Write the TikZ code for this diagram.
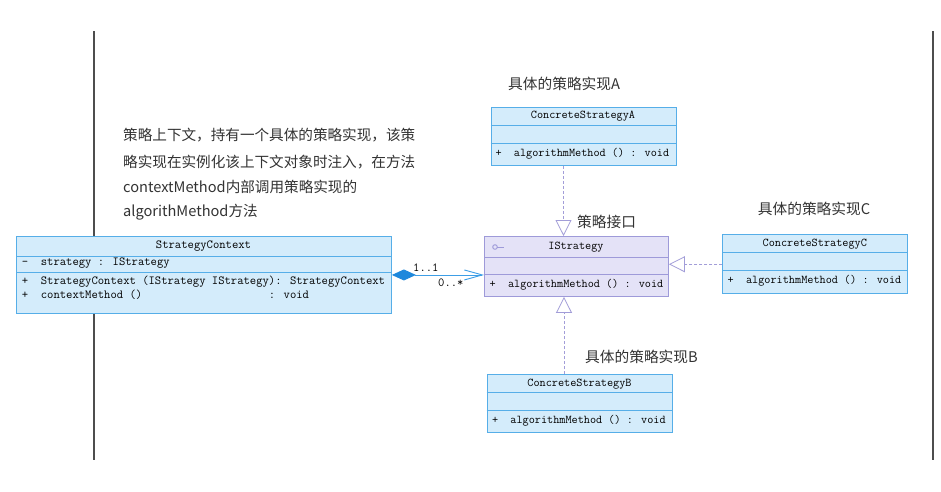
\documentclass[tikz,border=0pt]{standalone}
\usepackage{fontspec}
\usetikzlibrary{arrows.meta}
\newfontfamily\cjk{Noto Sans CJK SC}
\newcommand\umono{\ttfamily\fontsize{12.3}{14}\selectfont}
\newcommand\umonos{\ttfamily\fontsize{11.9}{14}\selectfont}
\definecolor{clsfill}{HTML}{D4ECFB}
\definecolor{clsline}{HTML}{56AEE8}
\definecolor{ifill}{HTML}{E4E2F7}
\definecolor{iline}{HTML}{9E9AD9}
\definecolor{dashc}{HTML}{A29DD8}
\definecolor{assocc}{HTML}{3D9EE6}
\definecolor{diamc}{HTML}{1E88DC}
\definecolor{txt}{HTML}{333333}
\definecolor{frame}{HTML}{4D4D4D}
\tikzset{
  clsbox/.style={draw=clsline, fill=clsfill, line width=0.9pt, inner sep=0pt, anchor=north west},
  ibox/.style={draw=iline, fill=ifill, line width=0.9pt, inner sep=0pt, anchor=north west},
  mtext/.style={font=\umono, text=black, inner sep=0pt},
  mleft/.style={mtext, anchor=west},
  stext/.style={font=\umonos, text=black, inner sep=0pt},
  sleft/.style={stext, anchor=west},
  note/.style={font=\cjk\fontsize{14.7}{17}\selectfont, text=txt, inner sep=0pt, anchor=base west},
  para/.style={font=\cjk\fontsize{14.6}{17}\selectfont, text=txt, inner sep=0pt, anchor=base west},
  real/.style={draw=dashc, line width=0.8pt, dash pattern=on 3pt off 2pt,
    -{Triangle[open, length=16pt, width=16pt, line width=0.8pt]}},
  assoc/.style={draw=assocc, line width=0.9pt,
    {Diamond[length=24pt, width=11pt, fill=diamc, color=diamc]}-{Straight Barb[length=18pt, width=10pt, line width=0.9pt]}},
  framel/.style={draw=frame, line width=1.5pt},
}
\begin{document}
\begin{tikzpicture}[x=1pt, y=-1pt]
\useasboundingbox (0,0) rectangle (941,491);
\fill[white] (0,0) rectangle (941,491);

% frame lines
\coordinate (fl1) at (94,31); \coordinate (fl2) at (94,460);
\coordinate (fr1) at (933,31); \coordinate (fr2) at (933,460);
\draw[framel] (fl1) -- (fl2);
\draw[framel] (fr1) -- (fr2);

% StrategyContext
\node[clsbox, minimum width=375pt, minimum height=77pt] (ctx) at (16,236) {};
\draw[clsline, line width=0.9pt] (16,256.7) -- (391,256.7);
\draw[clsline, line width=0.9pt] (16,272.3) -- (391,272.3);
\node[mtext] (ctxh) at (203.5,246.3) {StrategyContext};
\node[mleft] (ctxa) at (21.7,263.3) {-~~strategy : IStrategy};
\node[mleft] (ctxm1) at (21.7,281.7) {+~~StrategyContext (IStrategy IStrategy): StrategyContext};
\node[mleft] (ctxm2) at (21.7,294.3) {+~~contextMethod ()\phantom{xxxxxxxxxxxxxxxxxxxx}: void};

% IStrategy
\node[ibox, minimum width=184pt, minimum height=60pt] (istr) at (484,236) {};
\draw[iline, line width=0.9pt] (484,257) -- (668,257);
\draw[iline, line width=0.9pt] (484,274.5) -- (668,274.5);
\node[stext] (istrh) at (576,246.7) {IStrategy};
\node[sleft] (istrm) at (489.5,285) {+~~algorithmMethod () : void};
\draw[iline, line width=0.9pt] (495,247) circle (2.3pt);
\draw[iline, line width=0.9pt] (497.3,247) -- (503.5,247);

% ConcreteStrategyA
\node[clsbox, minimum width=185pt, minimum height=58pt] (csa) at (490.5,107) {};
\draw[clsline, line width=0.9pt] (490.5,125) -- (675.5,125);
\draw[clsline, line width=0.9pt] (490.5,143.3) -- (675.5,143.3);
\node[stext] (csah) at (583,116) {ConcreteStrategyA};
\node[sleft] (csam) at (495.3,154) {+~~algorithmMethod () : void};

% ConcreteStrategyB
\node[clsbox, minimum width=185.6pt, minimum height=58.3pt] (csb) at (486.7,374) {};
\draw[clsline, line width=0.9pt] (486.7,392.3) -- (672.3,392.3);
\draw[clsline, line width=0.9pt] (486.7,410.7) -- (672.3,410.7);
\node[stext] (csbh) at (579.5,384) {ConcreteStrategyB};
\node[sleft] (csbm) at (491.8,420.5) {+~~algorithmMethod () : void};

% ConcreteStrategyC
\node[clsbox, minimum width=185pt, minimum height=59pt] (csc) at (722.3,234.3) {};
\draw[clsline, line width=0.9pt] (722.3,252.7) -- (907.3,252.7);
\draw[clsline, line width=0.9pt] (722.3,270.7) -- (907.3,270.7);
\node[stext] (csch) at (814.8,244) {ConcreteStrategyC};
\node[sleft] (cscm) at (727.5,281) {+~~algorithmMethod () : void};

% realizations
\draw[real] ([xshift=73pt]csa.south west) -- ([xshift=79.5pt]istr.north west);
\draw[real] ([xshift=77.3pt]csb.north west) -- ([xshift=80pt]istr.south west);
\draw[real] (csc.west) -- (csc.west -| istr.east);

% association
\draw[assoc] (ctx.east) -- (ctx.east -| istr.west);
\node[mtext, anchor=west] (m11) at (413,268) {1..1};
\node[mtext, anchor=west] (m0s) at (438,283) {0..*};

% notes
\node[note] (la) at (508,89.6) {具体的策略实现A};
\node[note] (li) at (577,227.3) {策略接口};
\node[note] (lc) at (757.7,214.6) {具体的策略实现C};
\node[note] (lb) at (585,362.3) {具体的策略实现B};

\node[para] (p1) at (123,140.3) {策略上下文，持有一个具体的策略实现，该策};
\node[para] (p2) at (123,167) {略实现在实例化该上下文对象时注入，在方法};
\node[para] (p3) at (123,192) {contextMethod内部调用策略实现的};
\node[para] (p4) at (123,216) {algorithMethod方法};
\end{tikzpicture}
\end{document}
